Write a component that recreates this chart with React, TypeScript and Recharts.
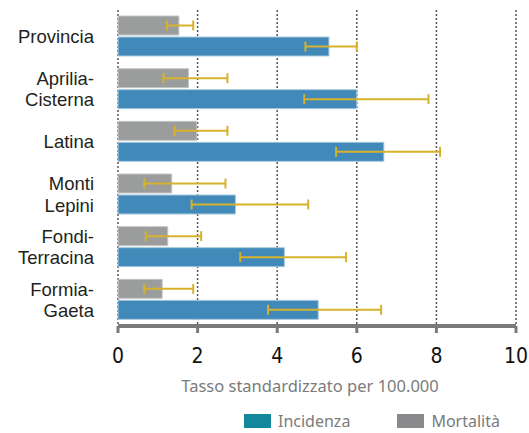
import {
  BarChart,
  Bar,
  XAxis,
  YAxis,
  CartesianGrid,
  ErrorBar,
} from "recharts";

const categories = [
  "Provincia",
  "Aprilia-\nCisterna",
  "Latina",
  "Monti\nLepini",
  "Fondi-\nTerracina",
  "Formia-\nGaeta",
];

const incidenza = [5.3, 6.0, 6.68, 2.95, 4.18, 5.03];
const incidenzaLow = [4.71, 4.68, 5.48, 1.85, 3.07, 3.77];
const incidenzaHigh = [6.0, 7.8, 8.09, 4.78, 5.73, 6.61];

const mortalita = [1.53, 1.77, 1.98, 1.35, 1.25, 1.11];
const mortalitaLow = [1.23, 1.14, 1.42, 0.66, 0.7, 0.66];
const mortalitaHigh = [1.89, 2.75, 2.75, 2.7, 2.09, 1.89];

const xTicks = [0, 2, 4, 6, 8, 10];

const data = categories.map((name, i) => ({
  name,
  mortalita: mortalita[i],
  mortErr: [mortalita[i] - mortalitaLow[i], mortalitaHigh[i] - mortalita[i]],
  incidenza: incidenza[i],
  incErr: [incidenza[i] - incidenzaLow[i], incidenzaHigh[i] - incidenza[i]],
}));

const BLUE = "#4189b8";
const GRAY = "#9b9d9d";
const GOLD = "#d6b22c";

function CategoryTick(props: any) {
  const { x, y, payload } = props;
  const lines = String(payload.value).split("\n");
  const lh = 21.5;
  const y0 = y - ((lines.length - 1) * lh) / 2;
  return (
    <text
      x={x}
      y={y0}
      textAnchor="end"
      fill="#231f20"
      fontSize={18.5}
      fontFamily="'Liberation Sans', Arial, sans-serif"
    >
      {lines.map((l, i) => (
        <tspan key={i} x={x} y={y0 + i * lh} dy="0.36em">
          {l}
        </tspan>
      ))}
    </text>
  );
}

export default function App() {
  return (
    <div
      style={{
        position: "absolute",
        left: 0,
        top: 0,
        width: 529,
        height: 433,
        background: "#fff",
        fontFamily: "'Noto Sans', sans-serif",
      }}
    >
      <BarChart
        width={529}
        height={372}
        data={data}
        layout="vertical"
        margin={{ top: 10, right: 13, left: 0, bottom: 0 }}
        barSize={19}
        barGap={2}
      >
        <CartesianGrid
          horizontal={false}
          stroke="#555"
          strokeWidth={1.5}
          strokeDasharray="2 2"
        />
        <XAxis
          type="number"
          domain={[0, 10]}
          ticks={xTicks}
          interval={0}
          height={46}
          axisLine={{ stroke: "#7a7a7a", strokeWidth: 4 }}
          tickLine={{ stroke: "#7a7a7a", strokeWidth: 3 }}
          tickSize={7}
          tickMargin={15}
          tick={{
            fill: "#111",
            fontSize: 21,
            fontFamily: "'DejaVu Sans Condensed', 'Liberation Sans Narrow', sans-serif",
          }}
        />
        <YAxis
          type="category"
          dataKey="name"
          width={118}
          axisLine={false}
          tickLine={false}
          tickSize={0}
          tickMargin={24}
          interval={0}
          tick={<CategoryTick />}
        />
        <Bar
          dataKey="mortalita"
          fill={GRAY}
          stroke="#c4c6c6"
          strokeWidth={1}
          isAnimationActive={false}
        >
          <ErrorBar
            dataKey="mortErr"
            direction="x"
            width={5}
            stroke={GOLD}
            strokeWidth={2}
          />
        </Bar>
        <Bar
          dataKey="incidenza"
          fill={BLUE}
          stroke="#a8c8de"
          strokeWidth={1}
          isAnimationActive={false}
        >
          <ErrorBar
            dataKey="incErr"
            direction="x"
            width={5}
            stroke={GOLD}
            strokeWidth={2}
          />
        </Bar>
      </BarChart>

      {/* axis title */}
      <div
        style={{
          position: "absolute",
          left: 110,
          width: 400,
          top: 374,
          textAlign: "center",
          fontSize: 16.5,
          color: "#7b7b7b",
        }}
      >
        Tasso standardizzato per 100.000
      </div>

      {/* legend */}
      <div
        style={{
          position: "absolute",
          left: 244,
          top: 410,
          display: "flex",
          alignItems: "center",
          fontSize: 16,
          color: "#7b7b7b",
        }}
      >
        <span style={{ width: 27, height: 14, background: "#13879c", display: "inline-block" }} />
        <span style={{ marginLeft: 7, marginRight: 47 }}>Incidenza</span>
        <span style={{ width: 27, height: 14, background: "#8a8a8c", display: "inline-block" }} />
        <span style={{ marginLeft: 7 }}>Mortalità</span>
      </div>
    </div>
  );
}
